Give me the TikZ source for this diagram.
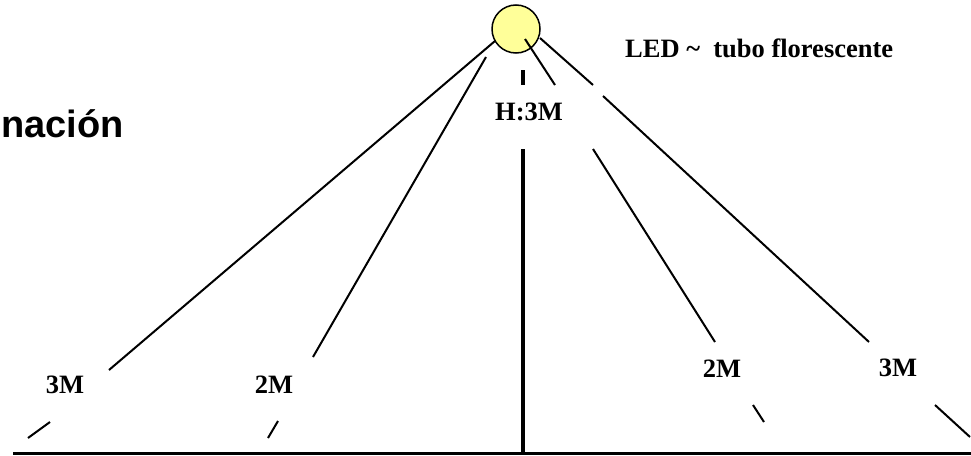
\documentclass[tikz,border=0pt]{standalone}
\usepackage{fontspec}
\setmainfont{Liberation Serif}
\newfontfamily\titlefont{Liberation Sans}
\usetikzlibrary{positioning}
\tikzset{beam/.style = {line width=2pt}}
\tikzset{axis/.style = {line width=3.5pt}}
\tikzset{dist/.style = {font=\bfseries\fontsize{26.5}{26.5}\selectfont, anchor=base, inner sep=0}}
\tikzset{lamp/.style = {circle, draw, line width=1.5pt, fill=lampyellow, minimum size=48, inner sep=0}}
\definecolor{lampyellow}{rgb}{1, 1, 0.6}

\begin{document}
\begin{tikzpicture}[x=1pt, y=-1pt]
      \useasboundingbox (0, 0) rectangle (971, 455);

      \node [anchor=base west, inner sep=0,
             font=\titlefont\bfseries\fontsize{38}{38}\selectfont] (title) at (1, 137) {nación};

      \node [lamp] (lamp) at (516, 29) {};
      \node [dist, anchor=base west] (type) at (625, 57) {LED \~{}\ \ tubo florescente};

      % left beams
      \draw [beam] (495, 41) -- (109, 370);
      \draw [beam] (50, 422) -- (28, 438);
      \draw [beam] (486, 57) -- (313, 357);
      \draw [beam] (278, 421) -- (268, 438);

      % height
      \draw [axis] (523, 70) -- (523, 85);
      \draw [axis] (523, 149) -- (523, 453);

      % right beams
      \draw [beam] (525, 39) -- (555, 85);
      \draw [beam] (593, 149) -- (715, 342);
      \draw [beam] (753, 405) -- (764, 422);
      \draw [beam] (540, 38) -- (593, 85);
      \draw [beam] (603, 96) -- (869, 342);
      \draw [beam] (935, 405) -- (970, 437);

      % floor
      \draw [line width=3pt] (13, 453) -- (971, 453);

      \node [dist] (h) at (529, 120) {H:3M};
      \node [dist] (l3) at (65, 393) {3M};
      \node [dist] (l2) at (274, 393) {2M};
      \node [dist] (r2) at (722, 377) {2M};
      \node [dist] (r3) at (898, 376) {3M};
    \end{tikzpicture}
\end{document}
